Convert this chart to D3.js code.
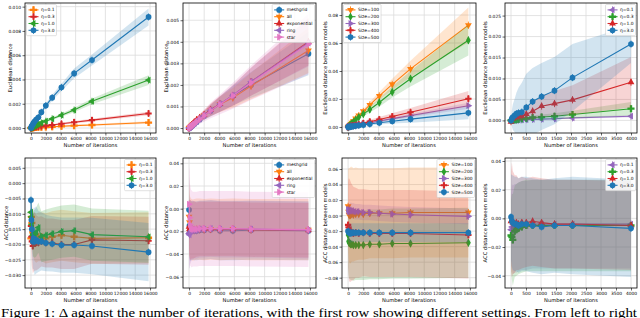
<!DOCTYPE html>
<html>
<head>
<meta charset="utf-8">
<script src="https://cdn.jsdelivr.net/npm/d3@7"></script>
<style>
  body { margin: 0; background: #fff; }
  svg { display: block; }
  text { fill: #000; }
</style>
</head>
<body>
<svg width="640" height="318"></svg>
<script>
// iteration counts (x values)
var itersLong = [0, 60, 120, 250, 350, 500, 700, 1000, 1400, 2000, 2850, 4100, 5800, 8200, 15800];
var itersShort = [0, 30, 60, 125, 180, 250, 360, 510, 720, 1020, 1450, 2050, 4000];

var ticksLong = [0, 2000, 4000, 6000, 8000, 10000, 12000, 14000, 16000];
var ticksShort = [0, 500, 1000, 1500, 2000, 2500, 3000, 3500, 4000];

// legend labels
var etaLabels = ["η=0.1", "η=0.3", "η=1.0", "η=3.0"];
var topoLabels = ["meshgrid", "all", "exponential", "ring", "star"];
var sizeLabels = ["Size=100", "Size=200", "Size=300", "Size=400", "Size=500"];

// --- panel 1: Euclidean distance, learning rates
var p1Eta01 = [0, 0.00001, 0.00002, 0.00002, 0.00003, 0.00004, 0.00005, 0.00006, 0.00007, 0.00008, 0.0001, 0.00015, 0.0002, 0.00025, 0.00045];
var p1Eta01Sd = [0, 0.00001, 0.00001, 0.00002, 0.00002, 0.00002, 0.00003, 0.00003, 0.00003, 0.00004, 0.00005, 0.00006, 0.00007, 0.00008, 0.0001];
var p1Eta03 = [0, 0.00002, 0.00003, 0.00005, 0.00006, 0.00008, 0.0001, 0.00012, 0.00015, 0.0002, 0.00025, 0.00035, 0.00048, 0.00065, 0.0012];
var p1Eta03Sd = [0, 0.00001, 0.00001, 0.00002, 0.00002, 0.00003, 0.00003, 0.00004, 0.00005, 0.00006, 0.00007, 0.00008, 0.0001, 0.00012, 0.00015];
var p1Eta10 = [0, 0.00003, 0.00005, 0.0001, 0.00013, 0.00018, 0.00024, 0.00032, 0.00042, 0.00056, 0.00076, 0.00106, 0.00148, 0.0022, 0.00395];
var p1Eta10Sd = [0, 0.00001, 0.00002, 0.00003, 0.00003, 0.00004, 0.00005, 0.00006, 0.00007, 0.00009, 0.0001, 0.00013, 0.00018, 0.00024, 0.0004];
var p1Eta30 = [0, 0.0001, 0.00018, 0.0003, 0.00042, 0.00055, 0.0007, 0.00088, 0.0013, 0.00185, 0.0025, 0.00335, 0.0045, 0.0056, 0.00915];
var p1Eta30Sd = [0, 0.00002, 0.00003, 0.00005, 0.00006, 0.00007, 0.00009, 0.0001, 0.00014, 0.0002, 0.00025, 0.0003, 0.0004, 0.00045, 0.0007];

// --- panel 2: Euclidean distance, topologies
var p2Mesh = [0, 0.00001, 0.00003, 0.00008, 0.0001, 0.00014, 0.0002, 0.00028, 0.0004, 0.00058, 0.0008, 0.0011, 0.0015, 0.002, 0.00345];
var p2MeshSd = [0, 0.00002, 0.00003, 0.00005, 0.00006, 0.00007, 0.00009, 0.00012, 0.00015, 0.0002, 0.00026, 0.00035, 0.00045, 0.0006, 0.001];
var p2All = [0, 0.00002, 0.00004, 0.00009, 0.00012, 0.00017, 0.00024, 0.00032, 0.00045, 0.0006, 0.00082, 0.0011, 0.0014, 0.00195, 0.0036];
var p2AllSd = [0, 0.00002, 0.00003, 0.00005, 0.00006, 0.00008, 0.0001, 0.00012, 0.00016, 0.0002, 0.00027, 0.00036, 0.00046, 0.00062, 0.00105];
var p2Exp = [0, 0.00002, 0.00005, 0.0001, 0.00014, 0.0002, 0.00028, 0.00038, 0.00048, 0.00062, 0.00085, 0.00112, 0.0015, 0.00215, 0.004];
var p2ExpSd = [0, 0.00002, 0.00003, 0.00005, 0.00007, 0.00009, 0.00011, 0.00014, 0.00017, 0.00021, 0.00028, 0.00037, 0.00048, 0.00065, 0.0011];
var p2Ring = [0, 0.00001, 0.00003, 0.00007, 0.0001, 0.00015, 0.00021, 0.0003, 0.00042, 0.00058, 0.00082, 0.00112, 0.00152, 0.00215, 0.00395];
var p2RingSd = [0, 0.00002, 0.00003, 0.00005, 0.00006, 0.00008, 0.0001, 0.00013, 0.00016, 0.0002, 0.00027, 0.00036, 0.00047, 0.00064, 0.0011];
var p2Star = [0, 0.00001, 0.00003, 0.00007, 0.0001, 0.00014, 0.0002, 0.00029, 0.00041, 0.00058, 0.00081, 0.0011, 0.0015, 0.0021, 0.0039];
var p2StarSd = [0, 0.00003, 0.00005, 0.00008, 0.0001, 0.00012, 0.00015, 0.00018, 0.00022, 0.00028, 0.00036, 0.00046, 0.0006, 0.0008, 0.0014];

// --- panel 3: Euclidean distance between models, sizes
var p3S100 = [0, 0.0003, 0.0007, 0.0015, 0.0022, 0.003, 0.0042, 0.006, 0.0082, 0.0112, 0.0158, 0.0222, 0.0305, 0.0415, 0.0728];
var p3S100Sd = [0, 0.0001, 0.0002, 0.0004, 0.0005, 0.0006, 0.0008, 0.001, 0.0013, 0.0017, 0.0022, 0.0028, 0.004, 0.0058, 0.0125];
var p3S200 = [0, 0.0003, 0.0006, 0.0012, 0.0018, 0.0025, 0.0035, 0.0051, 0.007, 0.0092, 0.0125, 0.0175, 0.025, 0.0345, 0.062];
var p3S200Sd = [0, 0.0001, 0.0002, 0.0004, 0.0005, 0.0006, 0.0008, 0.001, 0.0013, 0.0017, 0.0022, 0.003, 0.004, 0.0055, 0.011];
var p3S300 = [0, 0.0001, 0.0002, 0.0003, 0.0005, 0.0007, 0.0009, 0.0012, 0.0016, 0.0022, 0.003, 0.0043, 0.006, 0.0082, 0.0152];
var p3S300Sd = [0, 0.00005, 0.0001, 0.0001, 0.0002, 0.0002, 0.0003, 0.0003, 0.0004, 0.0005, 0.0006, 0.0008, 0.001, 0.0013, 0.0022];
var p3S400 = [0, 0.0001, 0.0002, 0.0004, 0.0006, 0.0008, 0.001, 0.0014, 0.0019, 0.0027, 0.0038, 0.0054, 0.0075, 0.0105, 0.0202];
var p3S400Sd = [0, 0.0001, 0.0001, 0.0002, 0.0003, 0.0004, 0.0005, 0.0006, 0.0008, 0.001, 0.0013, 0.0017, 0.0023, 0.003, 0.0055];
var p3S500 = [0, 0.0001, 0.0001, 0.0002, 0.0003, 0.0004, 0.0006, 0.0008, 0.0011, 0.0015, 0.0021, 0.003, 0.0041, 0.0056, 0.0101];
var p3S500Sd = [0, 0.0001, 0.0001, 0.0002, 0.0002, 0.0003, 0.0004, 0.0005, 0.0006, 0.0008, 0.001, 0.0013, 0.0017, 0.0025, 0.0045];

// --- panel 4: Euclidean distance between models, learning rates (short run)
var p4Eta01 = [0, 0.00002, 0.00004, 0.00006, 0.00008, 0.0001, 0.00013, 0.00018, 0.00025, 0.0003, 0.0004, 0.0006, 0.001];
var p4Eta01Sd = [0, 0.00002, 0.00003, 0.00004, 0.00005, 0.00006, 0.00007, 0.00008, 0.0001, 0.00012, 0.00015, 0.0002, 0.0003];
var p4Eta03 = [0, 0.00005, 0.0001, 0.00015, 0.0002, 0.0003, 0.0004, 0.0005, 0.0007, 0.0008, 0.001, 0.0014, 0.0028];
var p4Eta03Sd = [0, 0.0001, 0.0001, 0.0002, 0.0002, 0.0003, 0.0003, 0.0004, 0.0005, 0.0006, 0.0007, 0.0009, 0.0016];
var p4Eta10 = [-0.0003, 0.0003, 0.0005, 0.0008, 0.0009, 0.001, 0.0011, 0.0015, 0.0022, 0.0034, 0.004, 0.0049, 0.0091];
var p4Eta10Sd = [0, 0.0003, 0.0005, 0.0007, 0.0009, 0.001, 0.0012, 0.0016, 0.002, 0.0025, 0.003, 0.0035, 0.006];
var p4Eta30 = [0, 0.0005, 0.0008, 0.0012, 0.0016, 0.0018, 0.002, 0.0031, 0.0045, 0.0057, 0.0071, 0.0102, 0.0182];
var p4Eta30Sd = [0, 0.002, 0.003, 0.004, 0.005, 0.006, 0.007, 0.008, 0.008, 0.008, 0.008, 0.008, 0.0045];

// --- panel 5: ACC distance, learning rates
var p5Eta01 = [-0.018, -0.011, -0.013, -0.016, -0.017, -0.0175, -0.018, -0.0175, -0.0175, -0.018, -0.0175, -0.017, -0.0175, -0.018, -0.0178];
var p5Eta01Sd = [0.003, 0.005, 0.006, 0.007, 0.0075, 0.008, 0.008, 0.008, 0.008, 0.0082, 0.0083, 0.0083, 0.0083, 0.0083, 0.0083];
var p5Eta03 = [-0.014, -0.0175, -0.019, -0.0205, -0.0195, -0.019, -0.0195, -0.0195, -0.019, -0.0195, -0.0195, -0.02, -0.02, -0.0185, -0.0188];
var p5Eta03Sd = [0.003, 0.006, 0.008, 0.009, 0.0095, 0.0095, 0.009, 0.0085, 0.0082, 0.008, 0.008, 0.008, 0.008, 0.0078, 0.0078];
var p5Eta10 = [-0.0095, -0.011, -0.0135, -0.017, -0.0165, -0.0165, -0.016, -0.0145, -0.0175, -0.017, -0.0165, -0.0158, -0.0155, -0.0168, -0.0175];
var p5Eta10Sd = [0.003, 0.005, 0.006, 0.007, 0.0075, 0.0078, 0.008, 0.0082, 0.0083, 0.0084, 0.0085, 0.0085, 0.0085, 0.0085, 0.0085];
var p5Eta30 = [-0.0055, -0.012, -0.015, -0.019, -0.018, -0.019, -0.0185, -0.019, -0.019, -0.0195, -0.0198, -0.0202, -0.0202, -0.0205, -0.0225];
var p5Eta30Sd = [0.004, 0.006, 0.007, 0.009, 0.01, 0.011, 0.011, 0.01, 0.0095, 0.0092, 0.009, 0.009, 0.009, 0.0092, 0.0095];

// --- panel 6: ACC distance, topologies
var p6Mesh = [-0.001, -0.015, -0.019, -0.02, -0.019, -0.019, -0.0195, -0.0195, -0.019, -0.019, -0.0185, -0.0195, -0.0195, -0.019, -0.0195];
var p6MeshSd = [0.03, 0.028, 0.027, 0.026, 0.026, 0.026, 0.026, 0.026, 0.026, 0.026, 0.026, 0.026, 0.026, 0.026, 0.026];
var p6All = [-0.007, -0.012, -0.017, -0.018, -0.0185, -0.019, -0.0185, -0.018, -0.018, -0.0185, -0.018, -0.0185, -0.018, -0.0185, -0.0185];
var p6AllSd = [0.035, 0.03, 0.028, 0.027, 0.027, 0.027, 0.027, 0.027, 0.027, 0.027, 0.027, 0.027, 0.027, 0.027, 0.027];
var p6Exp = [-0.016, -0.018, -0.019, -0.0185, -0.019, -0.019, -0.0185, -0.0185, -0.018, -0.018, -0.018, -0.018, -0.018, -0.0185, -0.019];
var p6ExpSd = [0.02, 0.025, 0.027, 0.026, 0.025, 0.025, 0.025, 0.024, 0.024, 0.024, 0.024, 0.024, 0.024, 0.024, 0.024];
var p6Ring = [-0.022, -0.023, -0.021, -0.02, -0.0195, -0.019, -0.019, -0.019, -0.018, -0.018, -0.0175, -0.018, -0.018, -0.018, -0.019];
var p6RingSd = [0.03, 0.03, 0.028, 0.027, 0.026, 0.026, 0.025, 0.025, 0.025, 0.025, 0.025, 0.025, 0.025, 0.025, 0.025];
var p6Star = [0.004, -0.008, -0.014, -0.017, -0.018, -0.018, -0.018, -0.018, -0.0175, -0.0175, -0.0175, -0.0175, -0.0175, -0.018, -0.0185];
var p6StarSd = [0.03, 0.045, 0.036, 0.034, 0.034, 0.033, 0.033, 0.033, 0.033, 0.033, 0.033, 0.033, 0.033, 0.033, 0.033];

// --- panel 7: ACC distance between models, sizes
var p7S100 = [0.012, 0.005, 0.001, 0, 0.001, 0.002, 0.001, 0.002, 0.002, 0.002, 0.003, 0.003, 0.003, 0.004, 0.004];
var p7S100Sd = [0.05, 0.055, 0.06, 0.062, 0.062, 0.061, 0.06, 0.06, 0.059, 0.059, 0.058, 0.058, 0.058, 0.058, 0.058];
var p7S200 = [-0.025, -0.033, -0.035, -0.036, -0.037, -0.037, -0.038, -0.038, -0.038, -0.038, -0.037, -0.037, -0.036, -0.036, -0.035];
var p7S200Sd = [0.04, 0.044, 0.046, 0.046, 0.046, 0.046, 0.046, 0.045, 0.045, 0.045, 0.045, 0.045, 0.045, 0.045, 0.045];
var p7S300 = [0.008, 0.006, 0.005, 0.006, 0.007, 0.006, 0.006, 0.005, 0.005, 0.004, 0.004, 0.003, 0.002, 0.001, -0.001];
var p7S300Sd = [0.008, 0.009, 0.01, 0.01, 0.01, 0.01, 0.01, 0.01, 0.01, 0.01, 0.01, 0.01, 0.01, 0.01, 0.01];
var p7S400 = [-0.012, -0.015, -0.018, -0.02, -0.021, -0.022, -0.023, -0.022, -0.023, -0.022, -0.023, -0.023, -0.023, -0.023, -0.025];
var p7S400Sd = [0.055, 0.062, 0.066, 0.066, 0.064, 0.062, 0.06, 0.058, 0.057, 0.056, 0.056, 0.056, 0.056, 0.056, 0.056];
var p7S500 = [-0.02, -0.021, -0.022, -0.022, -0.023, -0.022, -0.022, -0.022, -0.022, -0.022, -0.022, -0.022, -0.022, -0.022, -0.022];
var p7S500Sd = [0.01, 0.011, 0.012, 0.012, 0.012, 0.012, 0.012, 0.012, 0.012, 0.012, 0.012, 0.012, 0.012, 0.012, 0.012];

// --- panel 8: ACC distance between models, learning rates (short run)
var p8Eta01 = [-0.008, -0.006, -0.008, -0.007, -0.007, -0.006, -0.005, -0.005, -0.004, -0.004, -0.004, -0.004, -0.004];
var p8Eta01Sd = [0.025, 0.03, 0.031, 0.031, 0.031, 0.031, 0.031, 0.031, 0.031, 0.031, 0.031, 0.031, 0.031];
var p8Eta03 = [-0.012, -0.013, -0.015, -0.009, -0.008, -0.007, -0.006, -0.005, -0.005, -0.005, -0.005, -0.005, -0.005];
var p8Eta03Sd = [0.025, 0.03, 0.032, 0.032, 0.032, 0.032, 0.032, 0.032, 0.032, 0.032, 0.032, 0.032, 0.032];
var p8Eta10 = [-0.002, -0.001, -0.003, -0.004, -0.003, -0.004, -0.003, -0.003, -0.002, -0.003, -0.004, -0.004, -0.005];
var p8Eta10Sd = [0.035, 0.04, 0.036, 0.034, 0.033, 0.032, 0.032, 0.031, 0.031, 0.031, 0.031, 0.031, 0.031];
var p8Eta30 = [0.001, -0.002, -0.003, -0.004, -0.004, -0.005, -0.004, -0.004, -0.005, -0.006, -0.005, -0.005, -0.007];
var p8Eta30Sd = [0.03, 0.032, 0.033, 0.033, 0.033, 0.033, 0.033, 0.033, 0.033, 0.033, 0.033, 0.034, 0.034];

var C = { blue: "#1f77b4", orange: "#ff7f0e", green: "#2ca02c", red: "#d62728", purple: "#9467bd", pink: "#e377c2" };

// which series go in which panel
function etaSet1(a, as, b, bs, c, cs, d, ds) {
  return [
    { label: etaLabels[0], mean: a, sd: as, color: C.orange, marker: "P" },
    { label: etaLabels[1], mean: b, sd: bs, color: C.red, marker: "+" },
    { label: etaLabels[2], mean: c, sd: cs, color: C.green, marker: "<" },
    { label: etaLabels[3], mean: d, sd: ds, color: C.blue, marker: "o" }
  ];
}
function etaSet2(a, as, b, bs, c, cs, d, ds) {
  return [
    { label: etaLabels[0], mean: a, sd: as, color: C.purple, marker: "<" },
    { label: etaLabels[1], mean: b, sd: bs, color: C.green, marker: "P" },
    { label: etaLabels[2], mean: c, sd: cs, color: C.red, marker: "^" },
    { label: etaLabels[3], mean: d, sd: ds, color: C.blue, marker: "o" }
  ];
}
function topoSet(a, as, b, bs, c, cs, d, ds, e, es) {
  return [
    { label: topoLabels[0], mean: a, sd: as, color: C.blue, marker: "o" },
    { label: topoLabels[1], mean: b, sd: bs, color: C.orange, marker: "v" },
    { label: topoLabels[2], mean: c, sd: cs, color: C.red, marker: "^" },
    { label: topoLabels[3], mean: d, sd: ds, color: C.purple, marker: "<" },
    { label: topoLabels[4], mean: e, sd: es, color: C.pink, marker: ">" }
  ];
}
function sizeSet(a, as, b, bs, c, cs, d, ds, e, es) {
  return [
    { label: sizeLabels[0], mean: a, sd: as, color: C.orange, marker: "v" },
    { label: sizeLabels[1], mean: b, sd: bs, color: C.green, marker: "D" },
    { label: sizeLabels[2], mean: c, sd: cs, color: C.purple, marker: ">" },
    { label: sizeLabels[3], mean: d, sd: ds, color: C.red, marker: "+" },
    { label: sizeLabels[4], mean: e, sd: es, color: C.blue, marker: "o" }
  ];
}

var panels = [
  { left: 25, right: 156, top: 3, bottom: 133, x: itersLong, xTicks: ticksLong, xDomain: [-800, 16800],
    yDomain: [-0.00041, 0.0103], yTicks: [0, 0.002, 0.004, 0.006, 0.008, 0.010], yFmt: ".3f", ylab: "Euclidean distance", ylabOff: 15, legend: "ul",
    series: etaSet1(p1Eta01, p1Eta01Sd, p1Eta03, p1Eta03Sd, p1Eta10, p1Eta10Sd, p1Eta30, p1Eta30Sd) },
  { left: 183, right: 316, top: 3, bottom: 133, x: itersLong, xTicks: ticksLong, xDomain: [-800, 16800],
    yDomain: [-0.00023, 0.0058], yTicks: [0, 0.001, 0.002, 0.003, 0.004, 0.005], yFmt: ".3f", ylab: "Euclidean distance", ylabOff: 17, legend: "ur",
    series: topoSet(p2Mesh, p2MeshSd, p2All, p2AllSd, p2Exp, p2ExpSd, p2Ring, p2RingSd, p2Star, p2StarSd) },
  { left: 342, right: 476, top: 3, bottom: 133, x: itersLong, xTicks: ticksLong, xDomain: [-800, 16800],
    yDomain: [-0.0043, 0.0886], yTicks: [0, 0.02, 0.04, 0.06, 0.08], yFmt: ".2f", ylab: "Euclidean distance between models", ylabOff: 17, legend: "ul",
    series: sizeSet(p3S100, p3S100Sd, p3S200, p3S200Sd, p3S300, p3S300Sd, p3S400, p3S400Sd, p3S500, p3S500Sd) },
  { left: 505, right: 637, top: 3, bottom: 133, x: itersShort, xTicks: ticksShort, xDomain: [-200, 4200],
    yDomain: [-0.003, 0.028], yTicks: [0, 0.005, 0.010, 0.015, 0.020, 0.025], yFmt: ".3f", ylab: "Euclidean distance between models", ylabOff: 20, legend: "ur",
    series: etaSet2(p4Eta01, p4Eta01Sd, p4Eta03, p4Eta03Sd, p4Eta10, p4Eta10Sd, p4Eta30, p4Eta30Sd) },
  { left: 25, right: 156, top: 158, bottom: 288, x: itersLong, xTicks: ticksLong, xDomain: [-800, 16800],
    yDomain: [-0.0342, 0.0082], yTicks: [-0.030, -0.025, -0.020, -0.015, -0.010, -0.005, 0, 0.005], yFmt: ".3f", ylab: "ACC distance", ylabOff: 19, legend: "ur",
    series: etaSet1(p5Eta01, p5Eta01Sd, p5Eta03, p5Eta03Sd, p5Eta10, p5Eta10Sd, p5Eta30, p5Eta30Sd) },
  { left: 183, right: 316, top: 158, bottom: 288, x: itersLong, xTicks: ticksLong, xDomain: [-800, 16800],
    yDomain: [-0.07, 0.0447], yTicks: [-0.06, -0.04, -0.02, 0, 0.02, 0.04], yFmt: ".2f", ylab: "ACC distance", ylabOff: 17, legend: "ur",
    series: topoSet(p6Mesh, p6MeshSd, p6All, p6AllSd, p6Exp, p6ExpSd, p6Ring, p6RingSd, p6Star, p6StarSd) },
  { left: 342, right: 476, top: 158, bottom: 288, x: itersLong, xTicks: ticksLong, xDomain: [-800, 16800],
    yDomain: [-0.0933, 0.0742], yTicks: [-0.08, -0.06, -0.04, -0.02, 0, 0.02, 0.04, 0.06], yFmt: ".2f", ylab: "ACC distance between models", ylabOff: 17, legend: "ur",
    series: sizeSet(p7S100, p7S100Sd, p7S200, p7S200Sd, p7S300, p7S300Sd, p7S400, p7S400Sd, p7S500, p7S500Sd) },
  { left: 505, right: 637, top: 158, bottom: 288, x: itersShort, xTicks: ticksShort, xDomain: [-200, 4200],
    yDomain: [-0.0486, 0.0421], yTicks: [-0.04, -0.02, 0, 0.02, 0.04], yFmt: ".2f", ylab: "ACC distance between models", ylabOff: 20, legend: "ur",
    series: etaSet2(p8Eta01, p8Eta01Sd, p8Eta03, p8Eta03Sd, p8Eta10, p8Eta10Sd, p8Eta30, p8Eta30Sd) }
];

var svg = d3.select("svg");
var SANS = "'DejaVu Sans', sans-serif";

// marker shapes, roughly the matplotlib ones
var shapes = { o: d3.symbolCircle, P: d3.symbolCross, "+": d3.symbolCross, D: d3.symbolDiamond,
  v: d3.symbolTriangle, "^": d3.symbolTriangle, "<": d3.symbolTriangle, ">": d3.symbolTriangle };
var turn = { v: 180, "^": 0, "<": -90, ">": 90 };
var sizes = { o: 26, P: 28, "+": 22, D: 20, v: 20, "^": 20, "<": 20, ">": 20 };

function drawMarker(g, m, color, cx, cy) {
  // little vertical error bar through the marker
  g.append("line").attr("x1", cx).attr("x2", cx).attr("y1", cy - 3.5).attr("y2", cy + 3.5)
    .attr("stroke", color).attr("stroke-width", 0.9);
  g.append("path")
    .attr("d", d3.symbol(shapes[m], sizes[m])())
    .attr("transform", "translate(" + cx + "," + cy + ") rotate(" + (turn[m] || 0) + ")")
    .attr("fill", color);
}

panels.forEach(function (p, k) {
  var g = svg.append("g");
  var x = d3.scaleLinear().domain(p.xDomain).range([p.left, p.right]);
  var y = d3.scaleLinear().domain(p.yDomain).range([p.bottom, p.top]);

  // grid
  g.selectAll(".gx").data(p.xTicks).enter().append("line")
    .attr("x1", function (d) { return x(d); }).attr("x2", function (d) { return x(d); })
    .attr("y1", p.top).attr("y2", p.bottom)
    .attr("stroke", "#dcdcdc").attr("stroke-width", 0.8);
  g.selectAll(".gy").data(p.yTicks).enter().append("line")
    .attr("y1", function (d) { return y(d); }).attr("y2", function (d) { return y(d); })
    .attr("x1", p.left).attr("x2", p.right)
    .attr("stroke", "#dcdcdc").attr("stroke-width", 0.8);

  var clipId = "clip" + k;
  svg.append("clipPath").attr("id", clipId).append("rect")
    .attr("x", p.left).attr("y", p.top).attr("width", p.right - p.left).attr("height", p.bottom - p.top);
  var plot = g.append("g").attr("clip-path", "url(#" + clipId + ")");

  p.series.forEach(function (s) {
    var pts = p.x.map(function (xv, i) { return { x: xv, m: s.mean[i], sd: s.sd[i] }; });
    var area = d3.area()
      .x(function (d) { return x(d.x); })
      .y0(function (d) { return y(d.m - d.sd); })
      .y1(function (d) { return y(d.m + d.sd); });
    plot.append("path").datum(pts).attr("d", area)
      .attr("fill", s.color).attr("fill-opacity", 0.2);
    var line = d3.line().x(function (d) { return x(d.x); }).y(function (d) { return y(d.m); });
    plot.append("path").datum(pts).attr("d", line)
      .attr("fill", "none").attr("stroke", s.color).attr("stroke-width", 1.1);
    pts.forEach(function (d) { drawMarker(plot, s.marker, s.color, x(d.x), y(d.m)); });
  });

  // frame
  g.append("rect").attr("x", p.left).attr("y", p.top)
    .attr("width", p.right - p.left).attr("height", p.bottom - p.top)
    .attr("fill", "none").attr("stroke", "#000").attr("stroke-width", 0.8);

  // axes
  var xa = g.append("g").attr("transform", "translate(0," + p.bottom + ")")
    .call(d3.axisBottom(x).tickValues(p.xTicks).tickFormat(d3.format("d")).tickSize(2.5).tickPadding(1.2));
  var ya = g.append("g").attr("transform", "translate(" + p.left + ",0)")
    .call(d3.axisLeft(y).tickValues(p.yTicks).tickFormat(d3.format(p.yFmt)).tickSize(2.5).tickPadding(1.5));
  [xa, ya].forEach(function (a) {
    a.select(".domain").remove();
    a.selectAll("line").attr("stroke", "#000").attr("stroke-width", 0.6);
    a.selectAll("text").attr("font-size", 4.4).style("font-family", SANS).attr("fill", "#000");
  });

  g.append("text").attr("x", (p.left + p.right) / 2).attr("y", p.bottom + 14)
    .attr("text-anchor", "middle").attr("font-size", 5.2).style("font-family", SANS).text("Number of iterations");
  g.append("text")
    .attr("transform", "translate(" + (p.left - p.ylabOff) + "," + ((p.top + p.bottom) / 2) + ") rotate(-90)")
    .attr("text-anchor", "middle").attr("dy", "0.35em").attr("font-size", 5.2).style("font-family", SANS).text(p.ylab);

  // legend
  var rowH = 6.8, pad = 2;
  var lg = g.append("g");
  var box = lg.append("rect").attr("fill", "#fff").attr("fill-opacity", 0.85)
    .attr("stroke", "#cccccc").attr("stroke-width", 0.6).attr("rx", 1);
  var maxW = 0;
  p.series.forEach(function (s, i) {
    var cy = pad + rowH * i + rowH / 2;
    lg.append("line").attr("x1", pad).attr("x2", pad + 10).attr("y1", cy).attr("y2", cy)
      .attr("stroke", s.color).attr("stroke-width", 1.1);
    drawMarker(lg, s.marker, s.color, pad + 5, cy);
    var t = lg.append("text").attr("x", pad + 12.5).attr("y", cy).attr("dy", "0.35em")
      .attr("font-size", 4.4).style("font-family", SANS).text(s.label);
    maxW = Math.max(maxW, t.node().getComputedTextLength());
  });
  var bw = pad + 12.5 + maxW + pad, bh = pad * 2 + rowH * p.series.length;
  box.attr("width", bw).attr("height", bh);
  var lx = p.legend === "ul" ? p.left + 1.5 : p.right - 1.5 - bw;
  lg.attr("transform", "translate(" + lx + "," + (p.top + 1.5) + ")");
});

// figure caption (its descenders run off the bottom of the image, as in the source)
svg.append("text").attr("x", 1).attr("y", 316.5)
  .style("font-family", "'Liberation Serif', serif").attr("font-size", 12.6)
  .attr("textLength", 636).attr("lengthAdjust", "spacingAndGlyphs")
  .text("Figure 1: Δ against the number of iterations, with the first row showing different settings. From left to right");
</script>
</body>
</html>
